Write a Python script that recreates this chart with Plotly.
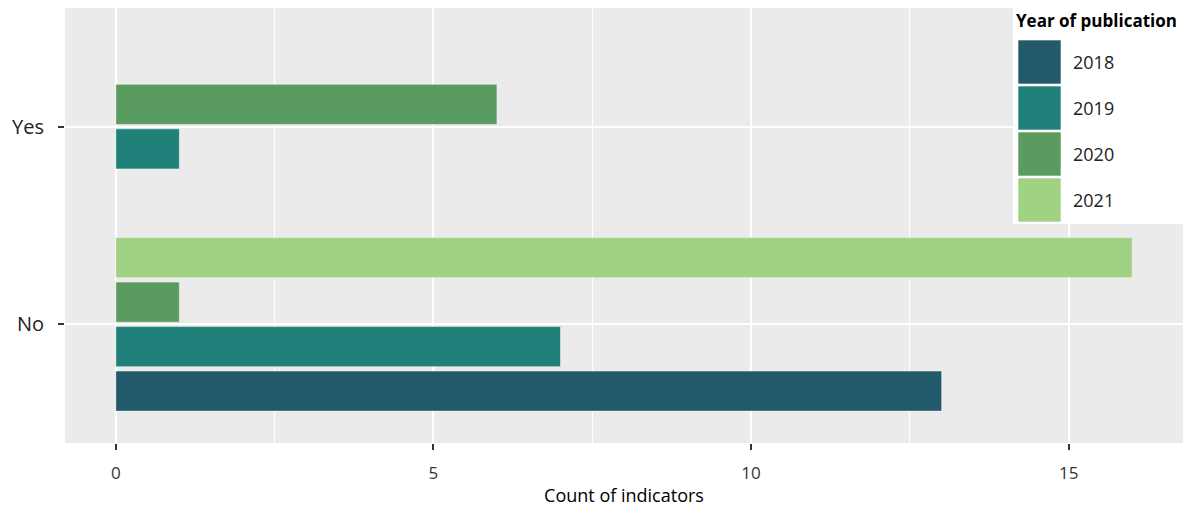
import plotly.graph_objects as go

# Data
categories = ["No", "Yes"]
years = ["2018", "2019", "2020", "2021"]
counts = {
    "2018": [13, None],
    "2019": [7, 1],
    "2020": [1, 6],
    "2021": [16, None],
}
colors = ["#22596B", "#20807A", "#5A9B60", "#A0D283"]

FONT = "Open Sans"
slot = 0.9 / len(years)  # dodge width per bar
bar_w = slot * 0.9

fig = go.Figure()

# Dodged bars; only the years present in a category share its space
for ci, cat in enumerate(categories):
    present = [y for y in years if counts[y][ci] is not None]
    n = len(present)
    for k, yr in enumerate(present):
        pos = ci + (k - (n - 1) / 2) * slot
        fig.add_trace(go.Bar(
            orientation="h",
            x=[counts[yr][ci]],
            y=[pos],
            width=bar_w,
            marker=dict(color=colors[years.index(yr)],
                        line=dict(color="rgba(255,255,255,0.45)", width=1)),
            name=yr,
            showlegend=False,
        ))

# Legend drawn as swatches + labels
PW, PH = 1118, 435  # plot area size in px
fig.add_shape(type="rect", xref="paper", yref="paper",
              x0=(1013 - 65) / PW, x1=1.01, y0=1 - (224 - 8) / PH, y1=1.0,
              fillcolor="white", line=dict(width=0), layer="above")
fig.add_annotation(xref="paper", yref="paper", x=(1014 - 65) / PW, y=1 - 12 / PH,
                   text="<b>Year of publication</b>", showarrow=False,
                   xanchor="left", yanchor="middle",
                   font=dict(family=FONT, size=17, color="black"))
sw_h = 44 / PH
for i, (yr, col) in enumerate(zip(years, colors)):
    top = 1 - (32 + i * 46) / PH
    fig.add_shape(type="rect", xref="paper", yref="paper",
                  x0=(1018 - 65) / PW, x1=(1061 - 65) / PW, y0=top - sw_h, y1=top,
                  fillcolor=col, line=dict(color="rgba(255,255,255,0.6)", width=1),
                  layer="above")
    fig.add_annotation(xref="paper", yref="paper", x=(1071 - 65) / PW, y=top - sw_h / 2,
                       text=yr, showarrow=False, xanchor="left", yanchor="middle",
                       font=dict(family=FONT, size=18, color="#222222"))

fig.update_layout(
    width=1192, height=509,
    margin=dict(l=65, r=9, t=8, b=66),
    paper_bgcolor="white",
    plot_bgcolor="#EBEBEB",
    barmode="overlay",
    showlegend=False,
    font=dict(family=FONT),
    xaxis=dict(
        range=[-0.8, 16.8],
        tickvals=[0, 5, 10, 15],
        ticks="outside", ticklen=6, tickwidth=2, tickcolor="#333333",
        ticklabelstandoff=9,
        tickfont=dict(family=FONT, size=17, color="#333333"),
        showgrid=True, gridcolor="white", gridwidth=2,
        minor=dict(tickvals=[2.5, 7.5, 12.5], showgrid=True,
                   gridcolor="white", gridwidth=1, ticks=""),
        zeroline=False, showline=False,
        title=dict(text="Count of indicators",
                   font=dict(family=FONT, size=18, color="black"),
                   standoff=5),
    ),
    yaxis=dict(
        range=[-0.6, 1.6],
        tickvals=list(range(len(categories))),
        ticktext=categories,
        ticks="outside", ticklen=6, tickwidth=2, tickcolor="#333333",
        ticklabelstandoff=10,
        tickfont=dict(family=FONT, size=20, color="#222222"),
        showgrid=True, gridcolor="white", gridwidth=2,
        zeroline=False, showline=False,
    ),
)

fig.write_html("out.html")
